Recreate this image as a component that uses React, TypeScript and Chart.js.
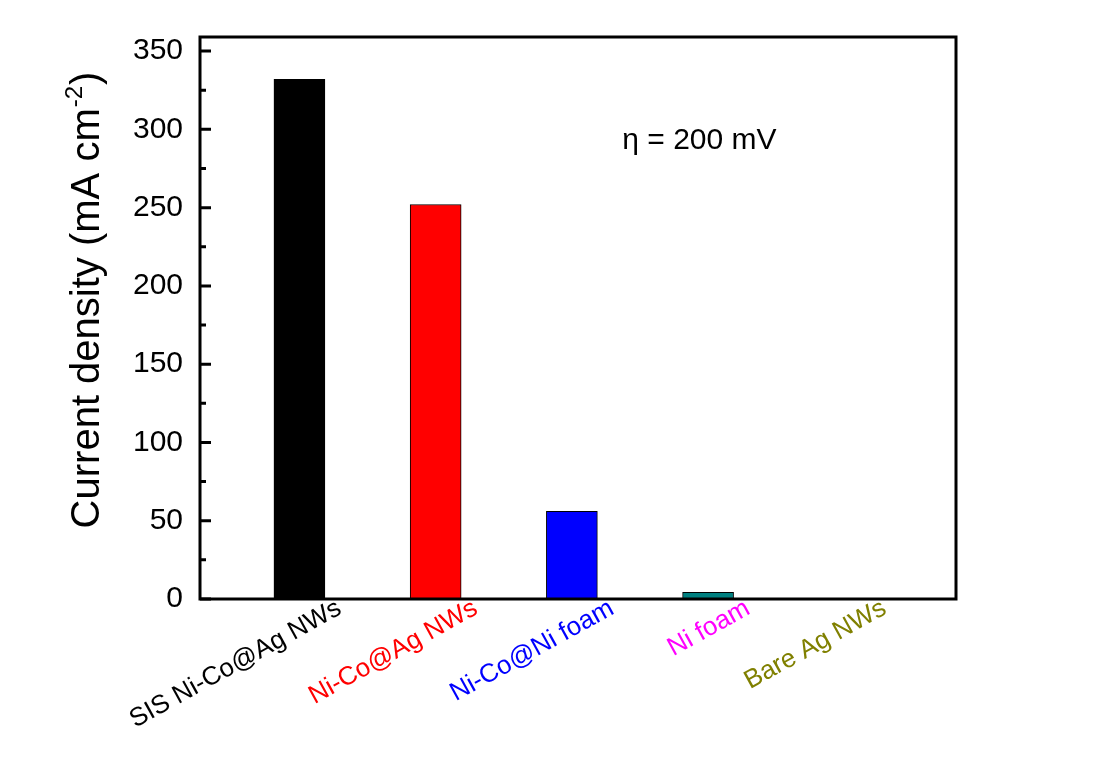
import React, { useEffect, useRef } from "react";
import { Chart, registerables } from "chart.js";

Chart.register(...registerables);

// Samples and their current density at an overpotential of 200 mV
const samples = [
  "SIS Ni-Co@Ag NWs",
  "Ni-Co@Ag NWs",
  "Ni-Co@Ni foam",
  "Ni foam",
  "Bare Ag NWs",
];
const currentDensity = [332, 252, 56, 4.2, 0];
const barColors = ["#000000", "#ff0000", "#0000ff", "#008080", "#808000"];
const labelColors = ["#000000", "#ff0000", "#0000ff", "#ff00ff", "#808000"];

const yTickValues = [0, 50, 100, 150, 200, 250, 300, 350];
const yMinorStep = 25;
const yMax = 359;
const xMin = 0.27;
const xMax = 5.82;

const annotationText = "\u03b7 = 200 mV";
const annotationPos = { x: 3.37, y: 293 };

const FONT = "'Liberation Sans', Arial, Helvetica, sans-serif";

// Frame around the plot area plus inward ticks on the left axis
const framePlugin = {
  id: "frameAndTicks",
  afterDatasetsDraw(chart: any) {
    const { ctx, chartArea } = chart;
    const y = chart.scales.y;
    const { left, top, right, bottom } = chartArea;
    ctx.save();
    ctx.strokeStyle = "#000";
    ctx.lineWidth = 3;
    ctx.strokeRect(left, top, right - left, bottom - top);
    ctx.beginPath();
    for (let v = 0; v <= yMax; v += yMinorStep) {
      const py = y.getPixelForValue(v);
      const major = yTickValues.includes(v);
      ctx.moveTo(left, py);
      ctx.lineTo(left + (major ? 11 : 6), py);
    }
    ctx.stroke();
    ctx.restore();
  },
};

// Axis title with superscript unit, and the overpotential note
const textPlugin = {
  id: "titles",
  afterDraw(chart: any) {
    const { ctx, chartArea } = chart;
    const xs = chart.scales.x;
    const ys = chart.scales.y;
    ctx.save();
    ctx.fillStyle = "#000";

    const main = "Current density (mA cm";
    const sup = "-2";
    const close = ")";
    const mainFont = `40px ${FONT}`;
    const supFont = `24px ${FONT}`;
    ctx.font = mainFont;
    const wMain = ctx.measureText(main).width;
    const wClose = ctx.measureText(close).width;
    ctx.font = supFont;
    const wSup = ctx.measureText(sup).width;
    const total = wMain + wSup + wClose;
    const cy = (chartArea.top + chartArea.bottom) / 2 - 17;
    ctx.translate(99, cy);
    ctx.rotate(-Math.PI / 2);
    ctx.textBaseline = "alphabetic";
    ctx.textAlign = "left";
    let x0 = -total / 2;
    ctx.font = mainFont;
    ctx.fillText(main, x0, 0);
    x0 += wMain;
    ctx.font = supFont;
    ctx.fillText(sup, x0 + 1, -17);
    x0 += wSup + 2;
    ctx.font = mainFont;
    ctx.fillText(close, x0, 0);
    ctx.restore();

    ctx.save();
    ctx.fillStyle = "#000";
    ctx.font = `30px ${FONT}`;
    ctx.textBaseline = "middle";
    ctx.textAlign = "left";
    ctx.fillText(
      annotationText,
      xs.getPixelForValue(annotationPos.x),
      ys.getPixelForValue(annotationPos.y)
    );
    ctx.restore();
  },
};

export default function App() {
  const canvasRef = useRef<HTMLCanvasElement | null>(null);

  useEffect(() => {
    const canvas = canvasRef.current;
    if (!canvas) return;
    const chart = new Chart(canvas, {
      type: "bar",
      data: {
        datasets: [
          {
            data: samples.map((_, i) => ({ x: i + 1, y: currentDensity[i] })),
            backgroundColor: barColors,
            borderColor: "#000000",
            borderWidth: 1,
            borderSkipped: false,
            barThickness: 51,
          },
        ],
      },
      options: {
        responsive: false,
        animation: false,
        events: [],
        layout: { padding: { left: 0, top: 37, right: 146, bottom: 0 } },
        plugins: {
          legend: { display: false },
          tooltip: { enabled: false },
        },
        scales: {
          x: {
            type: "linear",
            offset: false,
            min: xMin,
            max: xMax,
            grid: { display: false, drawTicks: false, offset: false },
            border: { display: false },
            afterBuildTicks: (scale: any) => {
              scale.ticks = samples.map((_, i) => ({ value: i + 1 }));
            },
            afterFit: (scale: any) => {
              scale.height = 183;
            },
            ticks: {
              autoSkip: false,
              minRotation: 29,
              maxRotation: 29,
              padding: -6,
              labelOffset: 40,
              font: { family: FONT, size: 26 },
              color: (c: any) => labelColors[c.index] ?? "#000",
              callback: (v: any) => samples[Math.round(v) - 1] ?? "",
            },
          },
          y: {
            min: 0,
            max: yMax,
            grid: { display: false, drawTicks: false },
            border: { display: false },
            afterBuildTicks: (scale: any) => {
              scale.ticks = yTickValues.map((v) => ({ value: v }));
            },
            afterFit: (scale: any) => {
              scale.width = 200;
            },
            ticks: {
              padding: 17,
              color: "#000",
              font: { family: FONT, size: 30 },
            },
          },
        },
      },
      plugins: [framePlugin, textPlugin],
    });
    return () => chart.destroy();
  }, []);

  return (
    <div
      style={{
        position: "fixed",
        left: 0,
        top: 0,
        width: 1102,
        height: 782,
        background: "#ffffff",
      }}
    >
      <canvas
        ref={canvasRef}
        width={1102}
        height={782}
        style={{ display: "block", width: 1102, height: 782 }}
      />
    </div>
  );
}
